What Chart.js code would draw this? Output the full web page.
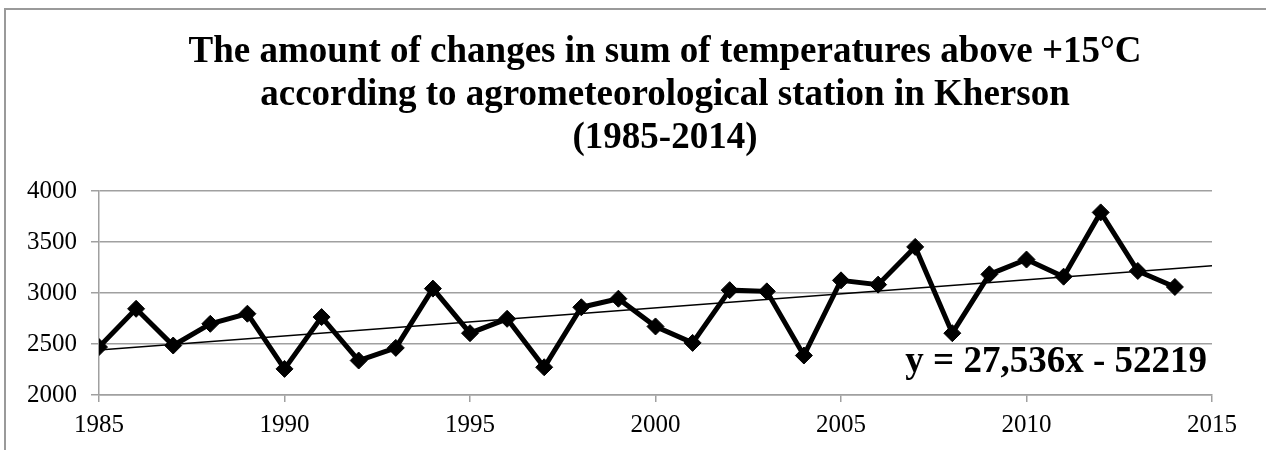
<!DOCTYPE html>
<html>
<head>
<meta charset="utf-8">
<script src="https://cdn.jsdelivr.net/npm/chart.js@4"></script>
<style>
  body { margin: 0; background: #fff; overflow: hidden; }
  #wrap { position: relative; width: 1266px; height: 450px; }
  #frame { position: absolute; left: 4px; top: 8px; width: 1300px; height: 500px;
           border-left: 2px solid #9a9a9a; border-top: 2px solid #9a9a9a; }
  canvas { position: absolute; left: 0; top: 0; }
</style>
</head>
<body>
<div id="wrap">
  <div id="frame"></div>
  <canvas id="canvas"></canvas>
</div>
<script>
// sum of temperatures above +15°C, Kherson
const years = [1985, 1986, 1987, 1988, 1989, 1990, 1991, 1992, 1993, 1994,
               1995, 1996, 1997, 1998, 1999, 2000, 2001, 2002, 2003, 2004,
               2005, 2006, 2007, 2008, 2009, 2010, 2011, 2012, 2013, 2014]
const tempSums = [2470, 2845, 2485, 2698, 2797, 2256, 2764, 2338, 2462, 3043,
                  2606, 2747, 2272, 2860, 2944, 2672, 2511, 3028, 3016, 2387,
                  3124, 3082, 3452, 2606, 3183, 3328, 3160, 3790, 3216, 3059]
// trendline from the equation on the chart
const trendSlope = 27.536
const trendIntercept = -52219
const trendYears = [1985, 2015]
const trendLabel = 'y = 27,536x - 52219'
const titleLines = ['The amount of changes in sum of temperatures above +15°C',
                    'according to agrometeorological station in Kherson',
                    '(1985-2014)']

const serif = '"Liberation Serif", "Times New Roman", serif'
const gridGrey = '#a0a0a0'

const points = years.map((y, i) => ({x: y, y: tempSums[i]}))
const trendPoints = trendYears.map(y => ({x: y, y: trendSlope * y + trendIntercept}))

const textPlugin = {
  id: 'texts',
  afterDraw(chart) {
    const ctx = chart.ctx
    const area = chart.chartArea
    ctx.save()
    ctx.fillStyle = '#000'
    ctx.font = 'bold 37px ' + serif
    ctx.textAlign = 'center'
    ctx.textBaseline = 'alphabetic'
    titleLines.forEach((line, i) => {
      ctx.fillText(line, 665, 62 + i * 43)
    })
    ctx.textAlign = 'right'
    ctx.fillText(trendLabel, area.right - 5, area.bottom - 23)
    ctx.restore()
  }
}

const ctx = document.getElementById('canvas').getContext('2d')
myChart = new Chart(ctx, {
  type: 'line',
  data: {
    datasets: [{
      label: 'sum',
      data: points,
      borderColor: '#000',
      borderWidth: 5,
      backgroundColor: '#000',
      pointStyle: 'rectRot',
      pointRadius: 8.5,
      pointBorderWidth: 1,
      tension: 0,
      order: 1
    }, {
      label: 'trend',
      data: trendPoints,
      borderColor: '#000',
      borderWidth: 1.5,
      pointRadius: 0,
      order: 2
    }]
  },
  options: {
    responsive: true,
    maintainAspectRatio: false,
    animation: false,
    devicePixelRatio: 1,
    layout: { padding: { left: 0, right: 54, top: 191, bottom: 0 } },
    plugins: {
      legend: { display: false },
      title: { display: false },
      tooltip: { enabled: false }
    },
    scales: {
      x: {
        type: 'linear',
        min: 1985,
        max: 2015,
        afterFit: s => { s.height = 55 },
        ticks: { stepSize: 5, color: '#000', padding: 8,
                 font: { family: serif, size: 25 }, callback: v => String(v) },
        grid: { drawOnChartArea: false, tickLength: 7, color: gridGrey, lineWidth: 1.5 },
        border: { display: true, color: gridGrey, width: 1.5 }
      },
      y: {
        min: 2000,
        max: 4000,
        afterFit: s => { s.width = 99 },
        ticks: { stepSize: 500, color: '#000', padding: 14,
                 font: { family: serif, size: 25 }, callback: v => String(v) },
        grid: { tickLength: 8, color: gridGrey, lineWidth: 1.5 },
        border: { display: true, color: gridGrey, width: 1.5 }
      }
    }
  },
  plugins: [textPlugin]
})
</script>
</body>
</html>
